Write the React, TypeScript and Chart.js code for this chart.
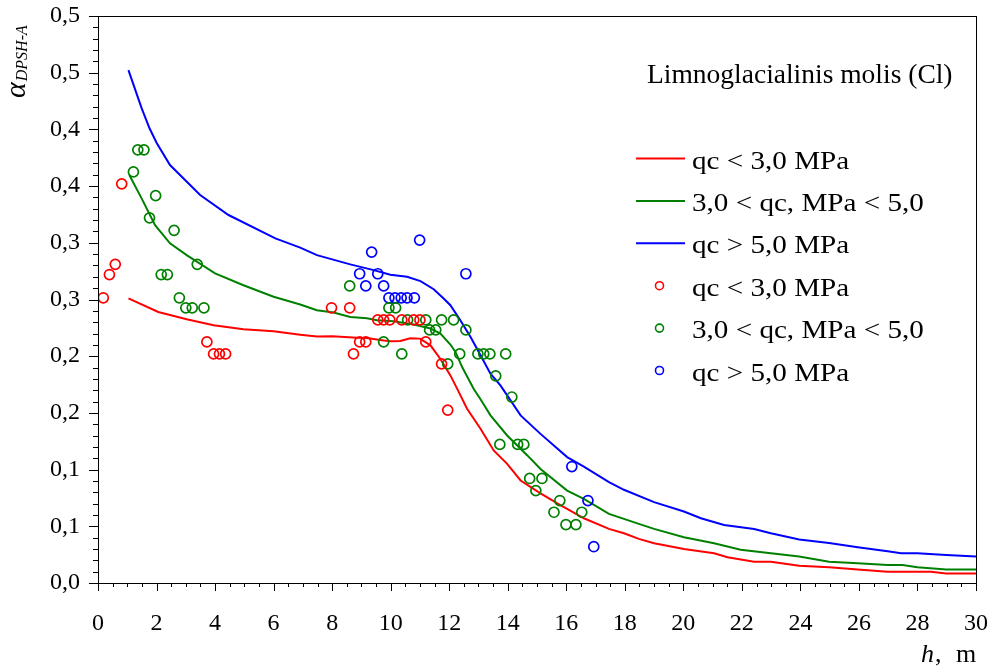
import { useEffect, useRef } from 'react';
import { Chart, registerables } from 'chart.js';

Chart.register(...registerables);

const FONT = '"Liberation Serif", "Times New Roman", Times, serif';

// Trend lines, α_DPSH-A versus depth h (m)
const lowLineH = [1.04, 2.06, 3.03, 3.95, 4.97, 6.0, 6.91, 7.48, 8.0, 8.85, 9.19, 9.76, 10.0, 10.33, 10.67, 11.0, 11.36, 11.7, 12.04, 12.27, 12.61, 13.07, 13.52, 13.98, 14.44, 15.12, 15.81, 16.03, 16.6, 17.46, 17.97, 18.48, 19.0, 20.02, 21.05, 21.51, 22.42, 22.99, 23.96, 24.98, 25.96, 26.98, 28.0, 28.46, 28.98, 30.0];
const lowLineA = [0.251, 0.239, 0.2326, 0.2273, 0.2238, 0.222, 0.219, 0.2173, 0.2175, 0.2162, 0.216, 0.2138, 0.2132, 0.2135, 0.2158, 0.2155, 0.2096, 0.1975, 0.1831, 0.1714, 0.1537, 0.136, 0.1169, 0.1051, 0.0904, 0.079, 0.0685, 0.0654, 0.0571, 0.0477, 0.0439, 0.0389, 0.035, 0.03, 0.0262, 0.0227, 0.0188, 0.0188, 0.0153, 0.0138, 0.0118, 0.01, 0.01, 0.01, 0.0083, 0.0083];

const midLineH = [1.07, 1.49, 1.95, 2.46, 3.03, 4.0, 4.97, 6.0, 6.91, 7.48, 8.05, 8.62, 9.19, 9.53, 10.1, 10.79, 11.36, 11.7, 12.04, 12.21, 12.45, 12.84, 13.07, 13.41, 13.98, 14.67, 15.12, 16.03, 16.6, 17.46, 18.48, 19.0, 20.02, 21.05, 21.96, 22.99, 23.96, 24.98, 25.96, 26.98, 27.49, 28.0, 28.98, 30.0];
const midLineA = [0.3598, 0.3392, 0.3156, 0.2995, 0.2891, 0.273, 0.2626, 0.2524, 0.2456, 0.2405, 0.2385, 0.2345, 0.2335, 0.2317, 0.2308, 0.2279, 0.2244, 0.22, 0.2103, 0.204, 0.19, 0.171, 0.162, 0.1478, 0.1301, 0.1125, 0.1005, 0.0815, 0.0742, 0.061, 0.0521, 0.0477, 0.0403, 0.035, 0.0294, 0.0262, 0.0233, 0.0188, 0.0174, 0.0159, 0.0159, 0.0138, 0.0118, 0.0118];

const highLineH = [1.04, 1.49, 1.76, 2.01, 2.46, 3.49, 4.46, 6.06, 6.91, 7.48, 8.62, 9.42, 9.99, 10.56, 11.02, 11.47, 11.81, 12.04, 12.38, 12.73, 13.07, 13.41, 13.75, 14.44, 15.12, 16.03, 16.6, 17.46, 17.97, 19.0, 20.02, 20.6, 21.39, 22.42, 22.99, 23.96, 24.98, 25.96, 26.98, 27.44, 28.0, 28.98, 30.0];
const highLineA = [0.4523, 0.4187, 0.401, 0.3878, 0.3686, 0.3421, 0.3245, 0.3039, 0.2957, 0.2891, 0.281, 0.2759, 0.2718, 0.27, 0.2662, 0.2591, 0.2509, 0.245, 0.2317, 0.217, 0.2008, 0.1846, 0.1743, 0.1478, 0.1315, 0.111, 0.1027, 0.089, 0.0822, 0.0713, 0.063, 0.0571, 0.0512, 0.0477, 0.0439, 0.0383, 0.0353, 0.0315, 0.028, 0.0262, 0.0262, 0.0247, 0.0233];

// Measured points
const lowPtsH = [0.18, 0.39, 0.59, 0.81, 3.72, 3.95, 4.15, 4.36, 7.98, 8.6, 8.73, 8.94, 9.15, 9.56, 9.76, 9.97, 10.38, 10.79, 11.0, 11.2, 11.74, 11.95];
const lowPtsA = [0.2515, 0.272, 0.281, 0.352, 0.2126, 0.202, 0.202, 0.202, 0.2427, 0.2427, 0.202, 0.2126, 0.2126, 0.232, 0.232, 0.232, 0.232, 0.232, 0.232, 0.2126, 0.1932, 0.1525];

const midPtsH = [1.21, 1.36, 1.57, 1.97, 1.76, 2.6, 2.16, 2.37, 3.39, 2.78, 3.0, 3.22, 3.62, 8.6, 9.76, 9.94, 10.17, 10.58, 11.2, 11.74, 12.15, 11.33, 11.54, 12.57, 10.38, 12.36, 12.98, 13.18, 13.39, 13.93, 11.95, 13.59, 14.14, 13.73, 14.34, 14.55, 14.75, 15.17, 14.96, 15.78, 15.58, 16.53, 15.99, 16.33];
const midPtsA = [0.3625, 0.382, 0.382, 0.3416, 0.322, 0.311, 0.272, 0.272, 0.281, 0.2515, 0.2427, 0.2427, 0.2427, 0.262, 0.2126, 0.2427, 0.2427, 0.232, 0.232, 0.232, 0.232, 0.2232, 0.2232, 0.2232, 0.202, 0.202, 0.202, 0.202, 0.202, 0.202, 0.1932, 0.1826, 0.164, 0.1222, 0.1222, 0.1222, 0.0922, 0.0922, 0.0815, 0.0727, 0.0624, 0.0624, 0.0515, 0.0515];

const highPtsH = [9.35, 8.94, 9.56, 9.15, 9.76, 9.94, 10.15, 10.36, 10.56, 10.81, 10.99, 12.57, 16.19, 16.74, 16.94];
const highPtsA = [0.2918, 0.2727, 0.2727, 0.262, 0.262, 0.2515, 0.2515, 0.2515, 0.2515, 0.2515, 0.3024, 0.2727, 0.1027, 0.0727, 0.032];

const seriesLabels = ['qc < 3,0 MPa', '3,0 < qc, MPa < 5,0', 'qc > 5,0 MPa'];
const seriesColors = ['#ff0000', '#008000', '#0000ff'];
const chartTitle = 'Limnoglacialinis molis (Cl)';
const yTickLabels = ['0,0', '0,1', '0,1', '0,2', '0,2', '0,3', '0,3', '0,4', '0,4', '0,5', '0,5'];

const toXY = (hs: number[], as: number[]) => hs.map((h, i) => ({ x: h, y: as[i] }));

const decorPlugin = {
  id: 'decor',
  afterDraw(chart: any) {
    const { ctx, chartArea: a, scales } = chart;
    const sx = scales.x;
    const sy = scales.y;
    ctx.save();

    // frame
    ctx.strokeStyle = '#000';
    ctx.lineWidth = 1;
    ctx.strokeRect(a.left + 0.5, a.top + 0.5, a.right - a.left, a.bottom - a.top);

    // y ticks (major 0.05, minor 0.01)
    ctx.beginPath();
    for (let k = 0; k <= 50; k++) {
      const py = Math.round(sy.getPixelForValue(k * 0.01)) + 0.5;
      const len = k % 5 === 0 ? 9 : 5;
      ctx.moveTo(a.left - len, py);
      ctx.lineTo(a.left, py);
    }
    // x ticks (major 2, minor 0.5)
    for (let k = 0; k <= 60; k++) {
      const px = Math.round(sx.getPixelForValue(k * 0.5)) + 0.5;
      const len = k % 4 === 0 ? 8 : 4;
      ctx.moveTo(px, a.bottom);
      ctx.lineTo(px, a.bottom + len);
    }
    ctx.stroke();

    // title inside plot
    ctx.fillStyle = '#000';
    ctx.textAlign = 'left';
    ctx.textBaseline = 'alphabetic';
    ctx.font = `27.5px ${FONT}`;
    ctx.fillText(chartTitle, 647, 83);

    // legend
    ctx.font = `26px ${FONT}`;
    const ds = chart.data.datasets;
    for (let i = 0; i < ds.length; i++) {
      const yc = 158.5 + i * 42.4;
      const d = ds[i];
      ctx.strokeStyle = d.borderColor;
      ctx.beginPath();
      if (d.showLine) {
        ctx.lineWidth = 2;
        ctx.moveTo(636, yc);
        ctx.lineTo(685, yc);
      } else {
        ctx.lineWidth = 1.6;
        ctx.arc(659.5, yc, 4, 0, Math.PI * 2);
      }
      ctx.stroke();
      ctx.save();
      ctx.translate(692, yc + 10);
      ctx.scale(1.12, 1);
      ctx.fillStyle = '#000';
      ctx.fillText(d.label, 0, 0);
      ctx.restore();
    }

    // x axis title
    ctx.fillStyle = '#000';
    ctx.font = `italic 26px ${FONT}`;
    ctx.fillText('h', 921, 662);
    const hw = ctx.measureText('h').width;
    ctx.font = `26px ${FONT}`;
    ctx.fillText(',', 921 + hw + 1, 662);
    ctx.fillText('m', 956, 662);

    // y axis title (rotated)
    ctx.translate(25, 98);
    ctx.rotate(-Math.PI / 2);
    ctx.font = `italic 30px ${FONT}`;
    ctx.fillText('α', 0, 0);
    const aw = ctx.measureText('α').width;
    ctx.font = `italic 16px ${FONT}`;
    ctx.fillText('DPSH-A', aw + 1, 2);

    ctx.restore();
  },
};

export default function App() {
  const canvasRef = useRef<HTMLCanvasElement | null>(null);

  useEffect(() => {
    const canvas = canvasRef.current;
    if (!canvas) return;

    const lineSeries = [toXY(lowLineH, lowLineA), toXY(midLineH, midLineA), toXY(highLineH, highLineA)];
    const pointSeries = [toXY(lowPtsH, lowPtsA), toXY(midPtsH, midPtsA), toXY(highPtsH, highPtsA)];

    const datasets: any[] = [];
    lineSeries.forEach((data, i) => {
      datasets.push({
        label: seriesLabels[i],
        data,
        showLine: true,
        borderColor: seriesColors[i],
        backgroundColor: seriesColors[i],
        borderWidth: 2,
        pointRadius: 0,
        pointHoverRadius: 0,
        tension: 0,
        order: 2,
      });
    });
    pointSeries.forEach((data, i) => {
      datasets.push({
        label: seriesLabels[i],
        data,
        showLine: false,
        borderColor: seriesColors[i],
        backgroundColor: 'rgba(0,0,0,0)',
        borderWidth: 1.7,
        pointRadius: 5,
        pointHoverRadius: 5,
        pointStyle: 'circle',
        order: 1,
      });
    });

    const chart = new Chart(canvas, {
      type: 'scatter',
      data: { datasets },
      options: {
        animation: false,
        responsive: false,
        events: [],
        layout: { padding: { top: 16, right: 14, left: 0, bottom: 0 } },
        plugins: {
          legend: { display: false },
          title: { display: false },
          tooltip: { enabled: false },
        },
        scales: {
          x: {
            type: 'linear',
            min: 0,
            max: 30,
            grid: { display: false, drawTicks: false },
            border: { display: false },
            ticks: {
              stepSize: 2,
              autoSkip: false,
              maxRotation: 0,
              padding: 26,
              color: '#000',
              font: { family: FONT, size: 24 },
            },
            afterFit: (scale: any) => {
              scale.height = 87;
              scale.paddingLeft = 0;
              scale.paddingRight = 0;
            },
          },
          y: {
            type: 'linear',
            min: 0,
            max: 0.5,
            grid: { display: false, drawTicks: false },
            border: { display: false },
            ticks: {
              stepSize: 0.05,
              autoSkip: false,
              padding: 18,
              color: '#000',
              font: { family: FONT, size: 24 },
              callback: (_v: any, i: number) => yTickLabels[i],
            },
            afterFit: (scale: any) => {
              scale.width = 98;
              scale.paddingTop = 0;
              scale.paddingBottom = 0;
            },
          },
        },
      },
      plugins: [decorPlugin],
    });

    return () => chart.destroy();
  }, []);

  return (
    <div style={{ position: 'absolute', left: 0, top: 0, width: 990, height: 670, background: '#fff' }}>
      <canvas ref={canvasRef} width={990} height={670} style={{ display: 'block' }} />
    </div>
  );
}
